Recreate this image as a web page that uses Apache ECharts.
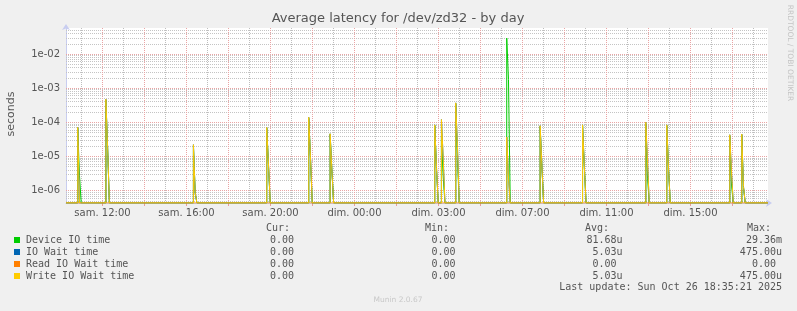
<!DOCTYPE html>
<html><head><meta charset="utf-8">
<script src="https://cdn.jsdelivr.net/npm/echarts@6/dist/echarts.min.js"></script>
<style>html,body{margin:0;padding:0;background:#f0f0f0;overflow:hidden}#c{width:797px;height:311px}</style>
</head><body><div id="c"></div>
<script>
// ---- data (hours since Sat 00:00, real elapsed time) ----
const spikeHours = [10.82, 12.16, 16.33, 19.82, 21.82, 22.84, 27.82, 28.14, 28.82, 31.25, 32.84, 34.86, 37.87, 38.87, 41.87, 42.44];
// two consecutive 5-minute samples per burst, 0 elsewhere
const deviceIoTime = [[6.8e-5, 2.8e-6], [4.5e-4, 1.8e-5], [2.0e-5, 8.5e-7], [6.8e-5, 5.5e-6], [1.3e-4, 9e-6], [4.4e-5, 3.8e-6], [8e-5, 4.5e-6], [3.8e-5, 2.5e-6], [3.5e-4, 7.9e-6], [2.936e-2, 1.79e-3], [7.5e-5, 5e-6], [8e-5, 5e-6], [9e-5, 2.3e-6], [8e-5, 4.4e-6], [4e-5, 1.45e-6], [4.3e-5, 1.2e-6]];
const ioWaitTime = [[7.1e-5, 0], [4.75e-4, 1.86e-5], [2.2e-5, 8.6e-7], [7.1e-5, 6e-6], [1.4e-4, 1e-5], [4.6e-5, 4e-6], [8.4e-5, 4.8e-6], [1.2e-4, 8.8e-6], [3.7e-4, 1.95e-5], [3.7e-5, 2.3e-6], [7.9e-5, 5.6e-6], [8.4e-5, 5.3e-6], [1e-4, 7e-6], [8.4e-5, 4.6e-6], [4.3e-5, 3.3e-6], [4.5e-5, 1.3e-6]];
const readIoWaitTime = [[0, 0], [0, 0], [0, 0], [0, 0], [0, 0], [0, 0], [0, 0], [0, 0], [0, 0], [0, 0], [0, 0], [0, 0], [0, 0], [0, 0], [0, 0], [0, 0]];
const writeIoWaitTime = [[7.1e-5, 0], [4.75e-4, 1.86e-5], [2.2e-5, 8.6e-7], [7.1e-5, 6e-6], [1.4e-4, 1e-5], [4.6e-5, 4e-6], [8.4e-5, 4.8e-6], [1.2e-4, 8.8e-6], [3.7e-4, 1.95e-5], [3.7e-5, 2.3e-6], [7.9e-5, 5.6e-6], [8.4e-5, 5.3e-6], [1e-4, 7e-6], [8.4e-5, 4.6e-6], [4.3e-5, 3.3e-6], [4.5e-5, 1.3e-6]];

const seriesNames = ['Device IO time', 'IO Wait time', 'Read IO Wait time', 'Write IO Wait time'];
const seriesColors = ['#00CC00', '#0066B3', '#FF8000', '#FFCC00'];
const curValues = ['0.00 ', '0.00 ', '0.00 ', '0.00 '];
const minValues = ['0.00 ', '0.00 ', '0.00 ', '0.00 '];
const avgValues = ['81.68u', '5.03u', '0.00 ', '5.03u'];
const maxValues = ['29.36m', '475.00u', '0.00 ', '475.00u'];

const xLabelHours = [12, 16, 20, 24, 28, 32, 36, 40];
const xLabels = ['sam. 12:00', 'sam. 16:00', 'sam. 20:00', 'dim. 00:00', 'dim. 03:00', 'dim. 07:00', 'dim. 11:00', 'dim. 15:00'];
const yTickValues = [1e-6, 1e-5, 1e-4, 1e-3, 1e-2];
const yTickLabels = ['1e-06', '1e-05', '1e-04', '1e-03', '1e-02'];

// ---- view range ----
const X_MIN = 10.2619, X_MAX = 43.6905;
const Y_MIN = 4.3e-7, Y_MAX = 0.058;
const STEP = 5 / 60;

function build(pairs) {
  const v = x => (x > Y_MIN ? x : Y_MIN);
  const pts = [[X_MIN, Y_MIN]];
  spikeHours.forEach((h, i) => {
    pts.push([h, v(pairs[i][0])]);
    pts.push([h + STEP, v(pairs[i][1])]);
    pts.push([h + 2 * STEP, Y_MIN]);
  });
  pts.push([X_MAX, Y_MIN]);
  return pts;
}

// grid helpers
const majorX = [], minorX = [];
for (let h = 11; h <= 43; h++) (h % 2 === 0 ? majorX : minorX).push(h);
const minorY = [];
for (let e = -7; e <= -2; e++) for (let m = 2; m <= 9; m++) {
  const val = m * Math.pow(10, e);
  if (val > Y_MIN && val < Y_MAX) minorY.push(val);
}
const noLbl = { show: false };
function ml(items, color) {
  return {
    silent: true, symbol: 'none', label: noLbl, animation: false, precision: 20,
    lineStyle: { color: color, width: 1, type: [1, 1], opacity: 1 },
    emphasis: { disabled: true },
    data: items
  };
}

const chart = echarts.init(document.getElementById('c'), null, { renderer: 'canvas' });
const FONT = 'DejaVu Sans';
const MONO = 'DejaVu Sans Mono';

const graphics = [
  { type: 'text', x: 398, y: 19, style: { text: 'Average latency for /dev/zd32 - by day', font: '13px ' + FONT, fill: '#555', align: 'center', verticalAlign: 'middle' } },
  { type: 'text', x: 11, y: 114, rotation: Math.PI / 2, style: { text: 'seconds', font: '11px ' + FONT, fill: '#555', align: 'center', verticalAlign: 'middle' } },
  { type: 'text', x: 790, y: 53, rotation: -Math.PI / 2, style: { text: 'RRDTOOL / TOBI OETIKER', font: '7.5px ' + FONT, fill: '#c4c4c4', align: 'center', verticalAlign: 'middle' } },
  { type: 'text', x: 398, y: 300, style: { text: 'Munin 2.0.67', font: '7.5px ' + FONT, fill: '#c8c8c8', align: 'center', verticalAlign: 'middle' } },
  { type: 'text', x: 266, y: 228, style: { text: 'Cur:', font: '10px ' + MONO, fill: '#555', verticalAlign: 'middle' } },
  { type: 'text', x: 425, y: 228, style: { text: 'Min:', font: '10px ' + MONO, fill: '#555', verticalAlign: 'middle' } },
  { type: 'text', x: 585, y: 228, style: { text: 'Avg:', font: '10px ' + MONO, fill: '#555', verticalAlign: 'middle' } },
  { type: 'text', x: 747, y: 228, style: { text: 'Max:', font: '10px ' + MONO, fill: '#555', verticalAlign: 'middle' } },
  { type: 'text', x: 782, y: 287.5, style: { text: 'Last update: Sun Oct 26 18:35:21 2025', font: '10px ' + MONO, fill: '#555', align: 'right', verticalAlign: 'middle' } }
];
seriesNames.forEach((n, i) => {
  const y = 240 + i * 12;
  graphics.push({ type: 'rect', shape: { x: 14, y: y - 3, width: 6, height: 6 }, style: { fill: seriesColors[i] } });
  graphics.push({ type: 'text', x: 26, y: y, style: { text: n, font: '10px ' + MONO, fill: '#555', verticalAlign: 'middle' } });
  graphics.push({ type: 'text', x: 300, y: y, style: { text: curValues[i], font: '10px ' + MONO, fill: '#555', align: 'right', verticalAlign: 'middle' } });
  graphics.push({ type: 'text', x: 461.5, y: y, style: { text: minValues[i], font: '10px ' + MONO, fill: '#555', align: 'right', verticalAlign: 'middle' } });
  graphics.push({ type: 'text', x: 622.5, y: y, style: { text: avgValues[i], font: '10px ' + MONO, fill: '#555', align: 'right', verticalAlign: 'middle' } });
  graphics.push({ type: 'text', x: 782, y: y, style: { text: maxValues[i], font: '10px ' + MONO, fill: '#555', align: 'right', verticalAlign: 'middle' } });
});

const dataSeries = [deviceIoTime, ioWaitTime, readIoWaitTime, writeIoWaitTime].map((arr, i) => ({
  name: seriesNames[i], type: 'line', step: 'end', showSymbol: false, symbol: 'none',
  data: build(arr), z: 5 + i, clip: true, animation: false,
  lineStyle: { color: seriesColors[i], width: 1 }, itemStyle: { color: seriesColors[i] }
}));

chart.setOption({
  backgroundColor: '#f0f0f0',
  animation: false,
  grid: { left: 66, right: 29, top: 28, bottom: 108, show: true, backgroundColor: '#ffffff', borderWidth: 0, z: 0 },
  xAxis: {
    type: 'value', min: X_MIN, max: X_MAX,
    axisLine: { show: true, lineStyle: { color: '#c8cdf0', width: 1 }, symbol: ['none', 'arrow'], symbolSize: [6, 6], symbolOffset: [0, 4] },
    axisTick: { show: true, customValues: majorX, length: 3, lineStyle: { color: '#e89a9a' } },
    axisLabel: {
      customValues: xLabelHours, margin: 5, fontFamily: FONT, fontSize: 10, color: '#555',
      formatter: v => { const i = xLabelHours.findIndex(h => Math.abs(h - v) < 1e-6); return i >= 0 ? xLabels[i] : ''; }
    },
    splitLine: { show: false }
  },
  yAxis: {
    type: 'log', logBase: 10, min: Y_MIN, max: Y_MAX,
    axisLine: { show: true, lineStyle: { color: '#c8cdf0', width: 1 }, symbol: ['none', 'arrow'], symbolSize: [6, 6], symbolOffset: [0, 4] },
    axisTick: { show: false },
    axisLabel: {
      margin: 6, fontFamily: FONT, fontSize: 10, color: '#555', showMinLabel: false, showMaxLabel: false,
      formatter: v => { const i = yTickValues.findIndex(t => Math.abs(Math.log10(t) - Math.log10(v)) < 1e-6); return i >= 0 ? yTickLabels[i] : ''; }
    },
    splitLine: { show: false }
  },
  graphic: graphics,
  series: [
    { type: 'line', data: [[X_MIN, Y_MIN]], symbol: 'none', lineStyle: { opacity: 0 }, z: 2, silent: true, markLine: ml(minorX.map(h => ({ xAxis: h })), '#bdbdbd') },
    { type: 'line', data: [[X_MIN, Y_MIN]], symbol: 'none', lineStyle: { opacity: 0 }, z: 2, silent: true, markLine: ml(minorY.map(v => ({ yAxis: v })), '#c4c4c4') },
    { type: 'line', data: [[X_MIN, Y_MIN]], symbol: 'none', lineStyle: { opacity: 0 }, z: 3, silent: true, markLine: ml(majorX.map(h => ({ xAxis: h })), '#eaa4a4') },
    { type: 'line', data: [[X_MIN, Y_MIN]], symbol: 'none', lineStyle: { opacity: 0 }, z: 3, silent: true, markLine: ml(yTickValues.map(v => ({ yAxis: v })), '#eaa4a4') }
  ].concat(dataSeries)
});
</script>
</body></html>
